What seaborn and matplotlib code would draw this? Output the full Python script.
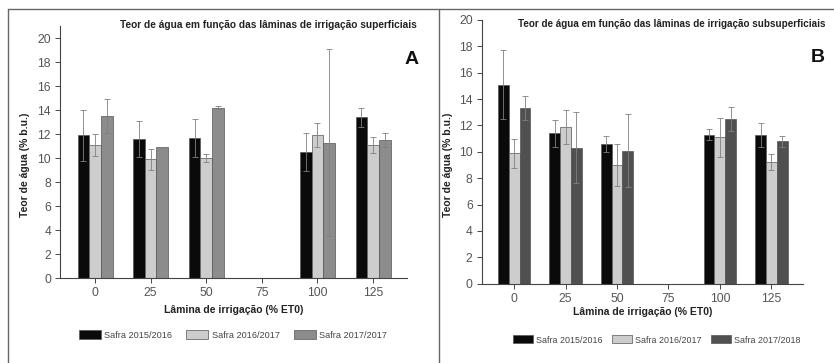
import matplotlib
matplotlib.use("Agg")
import numpy as np
import pandas as pd
import seaborn as sns
import matplotlib.pyplot as plt
from matplotlib.lines import Line2D

# ---------------- data ----------------
laminas = ['0', '25', '50', '100', '125']
eixo_x = ['0', '25', '50', '75', '100', '125']
safras_a = ['Safra 2015/2016', 'Safra 2016/2017', 'Safra 2017/2017']
safras_b = ['Safra 2015/2016', 'Safra 2016/2017', 'Safra 2017/2018']

a_1516 = [11.9, 11.6, 11.7, 10.5, 13.4]
a_1617 = [11.1, 9.9, 10.0, 11.9, 11.1]
a_1717 = [13.5, 10.9, 14.2, 11.3, 11.5]
a_err_1516 = [2.1, 1.5, 1.6, 1.6, 0.8]
a_err_1617 = [0.9, 0.9, 0.35, 1.0, 0.7]
a_err_1717 = [1.4, 0.05, 0.15, 7.8, 0.6]

b_1516 = [15.1, 11.4, 10.6, 11.3, 11.3]
b_1617 = [9.9, 11.9, 9.0, 11.1, 9.2]
b_1718 = [13.3, 10.3, 10.1, 12.5, 10.8]
b_err_1516 = [2.6, 1.0, 0.6, 0.4, 0.9]
b_err_1617 = [1.1, 1.3, 1.6, 1.5, 0.6]
b_err_1718 = [0.9, 2.7, 2.8, 0.9, 0.4]

titulo_a = 'Teor de água em função das lâminas de irrigação superficiais'
titulo_b = 'Teor de água em função das lâminas de irrigação subsuperficiais'
ylabel = 'Teor de água (% b.u.)'
xlabel = 'Lâmina de irrigação (% ET0)'

cores_a = ['#0a0a0a', '#cdcdcd', '#8c8c8c']
cores_b = ['#0a0a0a', '#cdcdcd', '#505050']

# ---------------- style ----------------
sns.set_style('ticks')
plt.rcParams['font.family'] = ['Liberation Sans', 'DejaVu Sans']
plt.rcParams['axes.edgecolor'] = '#444444'
plt.rcParams['xtick.color'] = '#444444'
plt.rcParams['ytick.color'] = '#444444'
plt.rcParams['xtick.labelcolor'] = '#555555'
plt.rcParams['ytick.labelcolor'] = '#555555'

fig = plt.figure(figsize=(8.34, 3.63), dpi=100)
W, H = 834.0, 363.0


def painel(rect, series, erros, safras, cores, ymax, leg_anchor, xlab_y, ylab_x,
           leg_fs, leg_hl, leg_cs):
    ax = fig.add_axes(rect)
    df = pd.DataFrame({
        'lamina': laminas * 3,
        'safra': sum([[s] * len(laminas) for s in safras], []),
        'teor': sum([list(v) for v in series], []),
    })
    sns.barplot(data=df, x='lamina', y='teor', hue='safra', order=eixo_x,
                hue_order=safras, palette=cores, width=0.63, errorbar=None,
                edgecolor='#555555', linewidth=0.5, saturation=1, ax=ax)
    for cont, vals, errs in zip(ax.containers, series, erros):
        xs = [b.get_x() + b.get_width() / 2 for b in cont]
        ax.errorbar(xs, vals, yerr=errs, fmt='none', ecolor='#808080',
                    elinewidth=0.6, capsize=2, capthick=0.6, zorder=5)
    ax.set_xlim(-0.63, 5.61)
    ax.set_ylim(0, ymax)
    ax.set_yticks(np.arange(0, 21, 2))
    ax.tick_params(axis='both', labelsize=8.7, length=3.5, width=0.7, pad=3)
    for s in ['top', 'right']:
        ax.spines[s].set_visible(False)
    for s in ['left', 'bottom']:
        ax.spines[s].set_linewidth(0.8)
    ax.set_xlabel(xlabel, fontsize=7.5, fontweight='bold', color='#222222')
    ax.xaxis.set_label_coords(0.5, xlab_y)
    ax.set_ylabel(ylabel, fontsize=7.5, fontweight='bold', color='#222222')
    ax.yaxis.set_label_coords(ylab_x, 0.45)
    sns.move_legend(ax, 'center', bbox_to_anchor=leg_anchor, ncol=3,
                    frameon=False, title=None, fontsize=leg_fs,
                    handlelength=leg_hl, handleheight=1.0, handletextpad=0.35,
                    columnspacing=leg_cs)
    for t in ax.get_legend().get_texts():
        t.set_color('#444444')
    return ax


ax_a = painel([60 / W, 1 - 278.3 / H, 347 / W, 252.3 / H],
              [a_1516, a_1617, a_1717], [a_err_1516, a_err_1617, a_err_1717],
              safras_a, cores_a, 21, (0.4986, -0.225), -0.105, -0.0865,
              6.6, 2.4, 1.6)
ax_b = painel([481.7 / W, 1 - 283.7 / H, 321 / W, 263.7 / H],
              [b_1516, b_1617, b_1718], [b_err_1516, b_err_1617, b_err_1718],
              safras_b, cores_b, 20, (0.546, -0.2135), -0.09, -0.088,
              6.4, 2.2, 1.1)

fig.text(268 / W, 1 - 25 / H, titulo_a, ha='center', va='center',
         fontsize=7.3, fontweight='bold', color='#222222')
fig.text(672 / W, 1 - 24 / H, titulo_b, ha='center', va='center',
         fontsize=7.1, fontweight='bold', color='#222222')
fig.text(412 / W, 1 - 59 / H, 'A', ha='center', va='center',
         fontsize=14, fontweight='bold', color='#111111')
fig.text(818 / W, 1 - 58 / H, 'B', ha='center', va='center',
         fontsize=14, fontweight='bold', color='#111111')

# panel frame lines
fc = '#666666'
fig.add_artist(Line2D([8 / W, 1], [1 - 9.3 / H, 1 - 9.3 / H], color=fc, lw=1.0))
fig.add_artist(Line2D([8.3 / W, 8.3 / W], [0, 1 - 9.3 / H], color=fc, lw=1.0))
fig.add_artist(Line2D([438.7 / W, 438.7 / W], [0, 1 - 9.3 / H], color=fc, lw=1.0))

fig.savefig('out.png', dpi=100)
